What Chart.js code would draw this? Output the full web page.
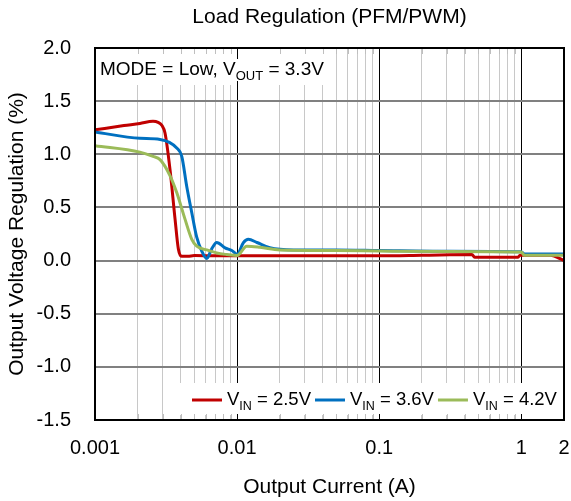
<!DOCTYPE html>
<html>
<head>
<meta charset="utf-8">
<title>Load Regulation (PFM/PWM)</title>
<script src="https://cdn.jsdelivr.net/npm/chart.js@4.4.0/dist/chart.umd.min.js"></script>
<style>
  html, body { margin: 0; padding: 0; background: #fff; }
  #wrap { width: 571px; height: 501px; }
</style>
</head>
<body>
<div id="wrap"><canvas id="chart" width="571" height="501"></canvas></div>
<script>
// values (A, %)
const currentVin25 = [0.001, 0.0016, 0.00207, 0.00256, 0.00278, 0.00296, 0.00311, 0.00337, 0.00366, 0.00386, 0.00408, 0.0045, 0.005, 0.007, 0.01, 0.02, 0.05, 0.1, 0.2, 0.45, 0.47, 0.95, 0.98, 1.6, 2];
const regVin25     = [1.23, 1.27, 1.29, 1.31, 1.30, 1.27, 1.20, 0.86, 0.39, 0.11, 0.04, 0.04, 0.047, 0.045, 0.045, 0.045, 0.045, 0.045, 0.05, 0.057, 0.031, 0.031, 0.05, 0.05, 0.0];

const currentVin36 = [0.001, 0.00207, 0.00287, 0.00376, 0.00408, 0.00442, 0.0048, 0.0052, 0.00564, 0.00612, 0.00663, 0.00719, 0.00823, 0.00918, 0.01, 0.0111, 0.012, 0.0138, 0.017, 0.025, 0.05, 0.1, 0.3, 1.0, 1.05, 2];
const regVin36     = [1.21, 1.15, 1.14, 1.06, 0.98, 0.70, 0.45, 0.22, 0.09, 0.02, 0.11, 0.17, 0.12, 0.095, 0.06, 0.17, 0.20, 0.17, 0.12, 0.10, 0.10, 0.095, 0.088, 0.083, 0.063, 0.063];

const currentVin42 = [0.001, 0.00207, 0.00256, 0.00287, 0.00337, 0.00376, 0.0043, 0.0048, 0.0052, 0.00612, 0.00719, 0.00846, 0.01, 0.0117, 0.0145, 0.02, 0.05, 0.1, 0.3, 1.0, 1.05, 2];
const regVin42     = [1.08, 1.02, 0.98, 0.95, 0.80, 0.64, 0.39, 0.20, 0.135, 0.10, 0.072, 0.057, 0.047, 0.135, 0.125, 0.10, 0.095, 0.09, 0.085, 0.08, 0.05, 0.05];

const vinLabels = ['2.5V', '3.6V', '4.2V'];
const lineColors = ['#C00000', '#0070C0', '#9BBB59'];

const xTickValues = [0.001, 0.002, 0.003, 0.004, 0.005, 0.006, 0.007, 0.008, 0.009,
                     0.01, 0.02, 0.03, 0.04, 0.05, 0.06, 0.07, 0.08, 0.09,
                     0.1, 0.2, 0.3, 0.4, 0.5, 0.6, 0.7, 0.8, 0.9, 1, 2];
const xLabelValues = [0.001, 0.01, 0.1, 1, 2];
const xDecades = [0.001, 0.01, 0.1, 1];

const FONT = '"Liberation Sans", Arial, sans-serif';

function toPoints(xs, ys) {
  return xs.map((x, i) => ({ x: x, y: ys[i] }));
}

// draws main text + subscript + rest, returns end x
function drawSubText(ctx, x, y, main, sub, rest, size, subSize) {
  ctx.font = size + 'px ' + FONT;
  ctx.fillText(main, x, y);
  x += ctx.measureText(main).width;
  ctx.font = subSize + 'px ' + FONT;
  ctx.fillText(sub, x, y + 5);
  x += ctx.measureText(sub).width;
  ctx.font = size + 'px ' + FONT;
  ctx.fillText(rest, x, y);
  return x + ctx.measureText(rest).width;
}

const overlays = {
  id: 'overlays',
  afterDraw(chart) {
    const { ctx, chartArea: a, scales: { x } } = chart;
    ctx.save();

    // title centred over the plot
    ctx.fillStyle = '#000';
    ctx.textAlign = 'center';
    ctx.textBaseline = 'middle';
    ctx.font = '21px ' + FONT;
    ctx.fillText('Load Regulation (PFM/PWM)', (a.left + a.right) / 2, 17);

    // annotation box top-left
    ctx.textAlign = 'left';
    ctx.textBaseline = 'alphabetic';
    ctx.fillStyle = '#fff';
    ctx.fillRect(a.left + 1, a.top + 1, 235, 36);
    const x01 = Math.round(x.getPixelForValue(0.01)) + 0.5;
    ctx.strokeStyle = '#000';
    ctx.lineWidth = 1;
    ctx.beginPath();
    ctx.moveTo(x01, a.top);
    ctx.lineTo(x01, a.top + 37);
    ctx.stroke();
    ctx.fillStyle = '#fff';
    ctx.fillRect(a.left + 3, a.top + 11, 225, 22);
    ctx.fillStyle = '#000';
    drawSubText(ctx, a.left + 5, a.top + 27, 'MODE = Low, V', 'OUT', ' = 3.3V', 19, 13);

    // legend box bottom-right
    ctx.fillStyle = '#fff';
    ctx.fillRect(a.left + 83, a.bottom - 37, a.right - a.left - 84, 32);
    let lx = a.left + 97;
    const ly = a.bottom - 20;
    vinLabels.forEach((lab, i) => {
      ctx.strokeStyle = lineColors[i];
      ctx.lineWidth = 3;
      ctx.beginPath();
      ctx.moveTo(lx, ly);
      ctx.lineTo(lx + 30, ly);
      ctx.stroke();
      ctx.fillStyle = '#000';
      lx = drawSubText(ctx, lx + 35, ly + 5, 'V', 'IN', ' = ' + lab, 18.5, 12.5) + 4;
    });

    // inward tick marks top and bottom
    ctx.lineWidth = 1;
    xTickValues.forEach(v => {
      const px = Math.round(x.getPixelForValue(v)) + 0.5;
      ctx.strokeStyle = xDecades.includes(v) ? '#000' : '#bfbfbf';
      ctx.beginPath();
      ctx.moveTo(px, a.top);
      ctx.lineTo(px, a.top + 6);
      ctx.moveTo(px, a.bottom - 6);
      ctx.lineTo(px, a.bottom);
      ctx.stroke();
    });

    // plot frame
    ctx.strokeStyle = '#000';
    ctx.lineWidth = 2;
    ctx.strokeRect(a.left, a.top, a.right - a.left, a.bottom - a.top);
    ctx.restore();
  }
};

const ctx = document.getElementById('chart').getContext('2d');
const chart = new Chart(ctx, {
  type: 'line',
  data: {
    datasets: [
      { label: 'VIN = 2.5V', data: toPoints(currentVin25, regVin25), borderColor: lineColors[0], order: 2 },
      { label: 'VIN = 3.6V', data: toPoints(currentVin36, regVin36), borderColor: lineColors[1], order: 1 },
      { label: 'VIN = 4.2V', data: toPoints(currentVin42, regVin42), borderColor: lineColors[2], order: 0 }
    ]
  },
  options: {
    responsive: false,
    animation: false,
    layout: { padding: { top: 48, right: 7, bottom: 0, left: 0 } },
    elements: {
      line: { borderWidth: 3, cubicInterpolationMode: 'monotone', fill: false },
      point: { radius: 0 }
    },
    plugins: {
      legend: { display: false },
      tooltip: { enabled: false },
      title: { display: false }
    },
    scales: {
      x: {
        type: 'logarithmic',
        min: 0.001,
        max: 2,
        afterBuildTicks: scale => { scale.ticks = xTickValues.map(v => ({ value: v })); },
        afterFit: scale => {
          scale.height = 81;
          scale.paddingLeft = 0;
          scale.paddingRight = 0;
        },
        ticks: {
          autoSkip: false,
          maxRotation: 0,
          padding: 16,
          color: '#000',
          font: { family: FONT, size: 20 },
          callback: v => xLabelValues.includes(v) ? String(v) : ''
        },
        grid: {
          drawTicks: false,
          lineWidth: 1,
          color: c => (c.tick && xDecades.includes(c.tick.value)) ? '#000' : '#c8c8c8'
        },
        border: { display: false },
        title: {
          display: true,
          text: 'Output Current (A)',
          color: '#000',
          font: { family: FONT, size: 21 },
          padding: { top: 0, bottom: 1 }
        }
      },
      y: {
        min: -1.5,
        max: 2,
        afterFit: scale => {
          scale.width = 95;
          scale.paddingTop = 0;
          scale.paddingBottom = 0;
        },
        ticks: {
          stepSize: 0.5,
          padding: 24,
          color: '#000',
          font: { family: FONT, size: 20 },
          callback: v => v.toFixed(1)
        },
        grid: { drawTicks: false, color: '#808080', lineWidth: 2 },
        border: { display: false },
        title: {
          display: true,
          text: 'Output Voltage Regulation (%)',
          color: '#000',
          font: { family: FONT, size: 21 },
          padding: { top: 5, bottom: 0 }
        }
      }
    }
  },
  plugins: [overlays]
});
</script>
</body>
</html>
